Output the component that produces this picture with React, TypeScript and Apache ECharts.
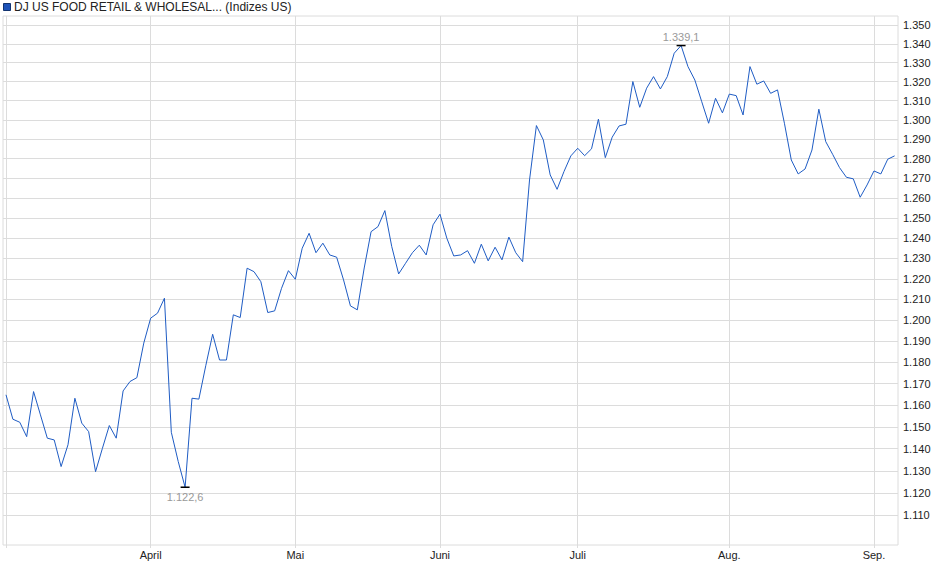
import { useEffect, useRef } from 'react'
import * as echarts from 'echarts'

const title = 'DJ US FOOD RETAIL & WHOLESAL... (Indizes US)'

// trading-day index of the first session of each month (0 = 3 March)
const monthStarts = [0, 21, 42, 63, 83, 105, 126]
const monthLabels = ['März', 'April', 'Mai', 'Juni', 'Juli', 'Aug.', 'Sep.']

const yTicks = [
  1110, 1120, 1130, 1140, 1150, 1160, 1170, 1180, 1190, 1200, 1210, 1220, 1230,
  1240, 1250, 1260, 1270, 1280, 1290, 1300, 1310, 1320, 1330, 1340, 1350,
]

// daily closes
const closes = [
  1164.8, 1153.5, 1152.1, 1145.5, 1166.3, 1155.5, 1144.8, 1144.0, 1131.9, 1141.8,
  1163.2, 1151.7, 1147.8, 1129.6, 1140.2, 1150.6, 1144.8, 1166.6, 1171.0, 1172.8,
  1189.1, 1201.0, 1203.4, 1210.6, 1147.5, 1134.2, 1122.6, 1163.2, 1162.8, 1178.4,
  1193.3, 1181.1, 1181.1, 1202.6, 1201.3, 1225.2, 1223.5, 1218.6, 1203.7, 1204.5,
  1215.4, 1224.0, 1219.8, 1235.0, 1242.4, 1232.8, 1237.5, 1231.7, 1230.6, 1219.5,
  1206.9, 1205.0, 1225.3, 1243.2, 1245.7, 1253.7, 1235.8, 1222.4, 1227.6, 1232.8,
  1236.5, 1231.7, 1246.6, 1251.9, 1239.9, 1231.2, 1231.7, 1233.8, 1227.6, 1237.0,
  1228.8, 1235.5, 1229.3, 1240.5, 1232.8, 1228.4, 1269.1, 1297.0, 1289.6, 1271.7,
  1264.4, 1273.4, 1281.4, 1285.3, 1281.5, 1285.0, 1300.3, 1280.5, 1291.0, 1296.8,
  1297.7, 1320.0, 1306.5, 1316.5, 1322.6, 1316.1, 1322.6, 1335.0, 1339.1, 1327.9,
  1320.8, 1309.4, 1298.2, 1311.2, 1303.6, 1313.4, 1312.6, 1302.5, 1327.9, 1318.6,
  1320.3, 1313.8, 1315.6, 1298.2, 1279.3, 1272.2, 1274.7, 1284.4, 1305.5, 1288.7,
  1282.2, 1275.4, 1270.5, 1269.7, 1260.4, 1266.6, 1273.7, 1272.2, 1279.7, 1281.4,
]

const font = 'Liberation Sans, Arial, sans-serif'
const gridColor = '#dcdcdc'

function formatDe(value: number, digits: number): string {
  const [intPart, decPart] = value.toFixed(digits).split('.')
  const grouped = intPart.replace(/\B(?=(\d{3})+(?!\d))/g, '.')
  return decPart ? `${grouped},${decPart}` : grouped
}

export default function App() {
  const chartRef = useRef<HTMLDivElement | null>(null)

  useEffect(() => {
    document.body.style.margin = '0'
    if (!chartRef.current) {
      return undefined
    }

    const chart = echarts.init(chartRef.current, undefined, { renderer: 'svg' })

    chart.setOption({
      animation: false,
      backgroundColor: '#fff',
      textStyle: { fontFamily: font },
      grid: {
        left: 3,
        right: 42,
        top: 16,
        bottom: 34,
        show: true,
        borderColor: gridColor,
        borderWidth: 1,
      },
      graphic: [
        {
          type: 'rect',
          left: 3,
          top: 3,
          shape: { width: 7, height: 7 },
          style: { fill: '#1d52b8', stroke: '#12336f', lineWidth: 1 },
        },
        {
          type: 'text',
          left: 14,
          top: 1,
          style: { text: title, fill: '#222', font: `12px ${font}` },
        },
      ],
      xAxis: {
        type: 'value',
        min: -0.435,
        max: 129.49,
        axisLine: { show: false },
        axisTick: {
          show: true,
          length: 3,
          lineStyle: { color: gridColor },
          customValues: monthStarts,
        },
        splitLine: {
          show: true,
          lineStyle: { color: gridColor },
          customValues: monthStarts,
        },
        axisLabel: {
          color: '#222',
          fontSize: 11,
          fontFamily: font,
          margin: 4,
          customValues: monthStarts.slice(1),
          formatter: (value: number) => monthLabels[monthStarts.indexOf(Math.round(value))] ?? '',
        },
      },
      yAxis: {
        type: 'log',
        logBase: 10,
        position: 'right',
        min: 1097,
        max: 1355,
        axisLine: { show: false },
        axisTick: { show: false, customValues: yTicks },
        splitLine: {
          show: true,
          lineStyle: { color: gridColor },
          customValues: yTicks,
        },
        axisLabel: {
          color: '#222',
          fontSize: 11,
          fontFamily: font,
          margin: 5,
          customValues: yTicks,
          formatter: (value: number) => formatDe(value, 0),
        },
      },
      series: [
        {
          type: 'line',
          data: closes.map((value, index) => [index, value]),
          showSymbol: false,
          symbol: 'none',
          lineStyle: { color: '#1f5cc4', width: 1 },
          silent: true,
          markPoint: {
            symbol: 'rect',
            symbolSize: [9, 1.5],
            itemStyle: { color: '#000' },
            silent: true,
            label: {
              show: true,
              color: '#999',
              fontSize: 11,
              fontFamily: font,
              formatter: (p: { value: number }) => formatDe(p.value, 1),
            },
            data: [
              { type: 'max', label: { position: 'top', distance: 2 } },
              { type: 'min', label: { position: 'bottom', distance: 4 } },
            ],
          },
        },
      ],
    })

    return () => {
      chart.dispose()
    }
  }, [])

  return <div ref={chartRef} style={{ width: 940, height: 579 }} />
}
